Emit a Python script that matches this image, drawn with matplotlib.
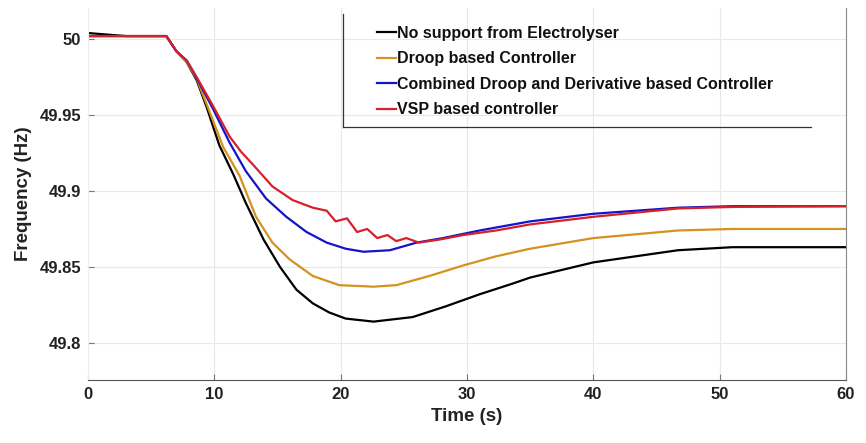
import matplotlib
matplotlib.use("Agg")
import matplotlib.pyplot as plt

plt.rcParams['font.family'] = ['Liberation Sans', 'DejaVu Sans']
plt.rcParams['font.weight'] = 'bold'

# Frequency response
t_none = [0, 3, 6.2, 7.0, 7.8, 8.6, 9.4, 10.4, 11.5, 12.5, 13.9, 15.2, 16.5, 17.8, 19.1,
          20.4, 22.6, 25.7, 28.3, 31.0, 33.6, 35.0, 40, 46.7, 51, 60]
f_none = [50.004, 50.002, 50.002, 49.992, 49.985, 49.973, 49.955, 49.930, 49.911, 49.892,
          49.868, 49.850, 49.835, 49.826, 49.820, 49.816, 49.814, 49.817, 49.824, 49.832,
          49.839, 49.843, 49.853, 49.861, 49.863, 49.863]

t_droop = [0, 6.2, 7.0, 7.8, 8.6, 9.4, 10.7, 12.0, 13.3, 14.6, 15.96, 17.8, 19.9, 22.6,
           24.4, 27.0, 29.7, 32.3, 35.0, 40, 46.7, 51, 60]
f_droop = [50.002, 50.002, 49.992, 49.985, 49.974, 49.957, 49.929, 49.910, 49.883, 49.866,
           49.855, 49.844, 49.838, 49.837, 49.838, 49.844, 49.851, 49.857, 49.862, 49.869,
           49.874, 49.875, 49.875]

t_comb = [0, 6.2, 7.0, 7.8, 8.3, 9.9, 11.2, 12.5, 14.1, 15.7, 17.3, 18.9, 20.4, 21.8,
          23.9, 26.0, 28.1, 31.0, 35.0, 40, 46.7, 51, 60]
f_comb = [50.002, 50.002, 49.992, 49.986, 49.979, 49.954, 49.932, 49.913, 49.895, 49.883,
          49.873, 49.866, 49.862, 49.860, 49.861, 49.866, 49.869, 49.874, 49.880, 49.885,
          49.889, 49.890, 49.890]

t_vsp = [0, 6.2, 7.0, 7.8, 8.6, 9.9, 11.2, 12.1, 13.1, 14.6, 16.2, 17.8, 18.9, 19.6,
         20.5, 21.3, 22.1, 22.9, 23.7, 24.4, 25.2, 26.2, 27.8, 29.7, 32.3, 35.0, 40,
         46.7, 51, 60]
f_vsp = [50.002, 50.002, 49.992, 49.986, 49.975, 49.956, 49.936, 49.926, 49.917, 49.903,
         49.894, 49.889, 49.887, 49.880, 49.882, 49.873, 49.875, 49.869, 49.871, 49.867,
         49.869, 49.866, 49.868, 49.871, 49.874, 49.878, 49.883, 49.8885, 49.8895, 49.890]

labels = ["No support from Electrolyser", "Droop based Controller",
          "Combined Droop and Derivative based Controller", "VSP based controller"]
colors = ["#000000", "#D4921E", "#1414C8", "#D8202A"]

x_ticks = [0, 10, 20, 30, 40, 50, 60]
y_ticks = [49.8, 49.85, 49.9, 49.95, 50]
y_tick_labels = ["49.8", "49.85", "49.9", "49.95", "50"]

fig = plt.figure(figsize=(8.66, 4.43), dpi=100)
ax = fig.add_axes([0.1016, 0.142, 0.8753, 0.840])

series = [(t_none, f_none), (t_droop, f_droop), (t_comb, f_comb), (t_vsp, f_vsp)]
for (t, f), lab, c in zip(series, labels, colors):
    ax.plot(t, f, color=c, lw=1.6, label=lab)

ax.set_xlim(0, 60)
ax.set_ylim(49.7755, 50.0205)
ax.set_xticks(x_ticks)
ax.set_yticks(y_ticks)
ax.set_yticklabels(y_tick_labels)
ax.grid(True, color="#e8e8e8", lw=0.8)
ax.set_axisbelow(True)

ax.tick_params(direction="in", length=4, color="#777777", labelsize=12,
               labelcolor="#222222", pad=5)
for lbl in ax.get_xticklabels() + ax.get_yticklabels():
    lbl.set_fontweight("bold")

ax.spines["top"].set_visible(False)
ax.spines["left"].set_color("#eeeeee")
ax.spines["bottom"].set_color("#555555")
ax.spines["right"].set_color("#888888")

ax.set_xlabel("Time (s)", fontsize=13.5, fontweight="bold", color="#222222", labelpad=4)
ax.set_ylabel("Frequency (Hz)", fontsize=13.5, fontweight="bold", color="#222222", labelpad=5)

leg = ax.legend(loc="upper left", bbox_to_anchor=(0.381, 0.952), frameon=False,
                fontsize=11.5, handlelength=1.2, handletextpad=0.05,
                labelspacing=0.66, borderaxespad=0.0, borderpad=0.0)
for txt in leg.get_texts():
    txt.set_fontweight("bold")
    txt.set_color("#111111")

# legend box: only left and bottom edges show in the reference
ax.plot([0.336, 0.336], [0.680, 0.985], transform=ax.transAxes, color="#333333", lw=0.9)
ax.plot([0.336, 0.954], [0.680, 0.680], transform=ax.transAxes, color="#333333", lw=0.9)

fig.savefig("out.png", dpi=100, facecolor="white")
